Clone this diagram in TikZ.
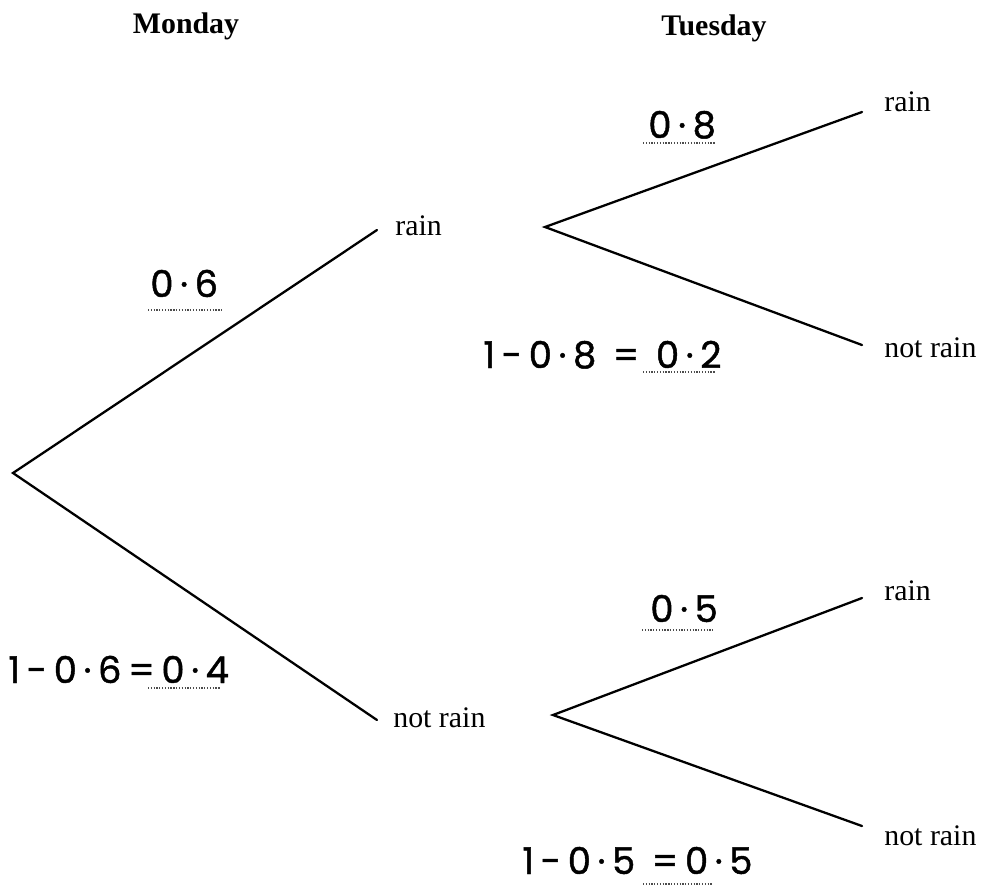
\documentclass[tikz,border=0pt]{standalone}
\usepackage{fontspec}
\setmainfont{Liberation Serif}
\newfontfamily\hand[LetterSpace=18, FakeBold=1.2]{Poppins}
\tikzset{
  branch/.style={line width=1.3pt, line cap=round, line join=miter},
  outcome/.style={font=\fontsize{17}{20}\selectfont, inner sep=0pt, anchor=base west},
  dayhead/.style={font=\fontsize{17}{20}\selectfont\bfseries, inner sep=0pt, anchor=base},
  prob/.style={font=\hand\fontsize{21}{24}\selectfont, inner sep=0pt, anchor=base west},
  answerline/.style={line width=0.6pt, black!70, dash pattern=on 0.7pt off 0.9pt}
}
\begin{document}
\begin{tikzpicture}[x=0.02cm, y=-0.02cm]
\useasboundingbox (0,0) rectangle (983,887);

% column headings
\node[dayhead] (mon) at (186,33) {Monday};
\node[dayhead] (tue) at (714,35) {Tuesday};

% branch points and branch ends
\coordinate (root) at (13,473);
\coordinate (m1) at (377,230);
\coordinate (m2) at (377,720);
\coordinate (t1) at (545,227);
\coordinate (t2) at (553,715);
\coordinate (r11) at (862,112);
\coordinate (r12) at (862,345);
\coordinate (r21) at (862,598);
\coordinate (r22) at (862,826);

% outcome labels
\node[outcome] (mrain) at (395,235) {rain};
\node[outcome] (mnot) at (393,727) {not rain};
\node[outcome] (rr1) at (884,111) {rain};
\node[outcome] (rn1) at (884,357) {not rain};
\node[outcome] (rr2) at (884,600) {rain};
\node[outcome] (rn2) at (884,845) {not rain};

% branches
\draw[branch] (m1) -- (root) -- (m2);
\draw[branch] (r11) -- (t1) -- (r12);
\draw[branch] (r21) -- (t2) -- (r22);

% probabilities
\node[prob] (p06) at (150,297) {0·6};
\node[prob] (p04) at (8,683) {1-0·6=0·4};
\node[prob] (p08) at (648,138) {0·8};
\node[prob] (p02) at (483,368) {1-0·8 = 0·2};
\node[prob] (p05) at (650,622) {0·5};
\node[prob] (p05b) at (522,874) {1-0·5 =0·5};

% dotted answer lines
\draw[answerline] (148,310) -- (222,310);
\draw[answerline] (148,688) -- (220,688);
\draw[answerline] (643,143) -- (715,143);
\draw[answerline] (643,372) -- (715,372);
\draw[answerline] (642,630) -- (713,630);
\draw[answerline] (643,884) -- (712,884);
\end{tikzpicture}
\end{document}
